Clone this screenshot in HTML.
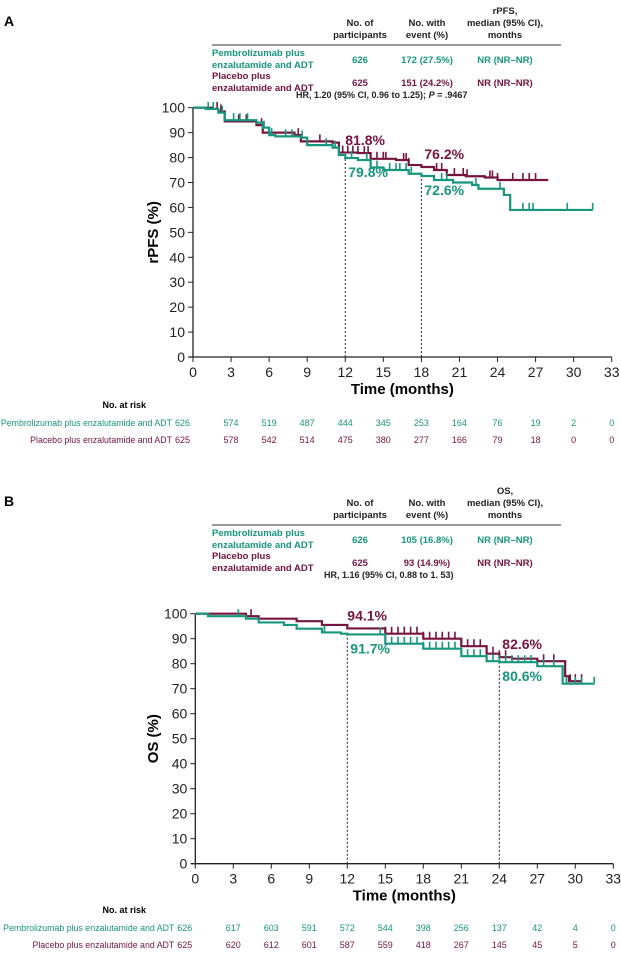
<!DOCTYPE html>
<html><head><meta charset="utf-8">
<style>
html,body{margin:0;padding:0;background:#fff;}
body{width:621px;height:951px;overflow:hidden;font-family:"Liberation Sans",Arial,sans-serif;}
svg text{font-family:"Liberation Sans",Arial,sans-serif;}
</style></head>
<body>
<svg id="chart" width="621" height="951" viewBox="0 0 621 951" xmlns="http://www.w3.org/2000/svg"></svg>
<script>
// ---------- DATA ----------
const xTicks = [0,3,6,9,12,15,18,21,24,27,30,33];
const yTicks = [0,10,20,30,40,50,60,70,80,90,100];
// Panel A rPFS step curves [month, %]
const rpfsPembroT = [0,1,2,2.5,5,5.5,6,6.5,8.5,9,11,11.5,12,13,14,15,16.5,17,18,19,20.5,22,22.5,24,24.5,25,31.5];
const rpfsPembroS = [100,99.5,98,95,94,92,89,88.5,88,85,84,81,79.8,79,76,75,75,73.5,72.6,71,70,69,67.5,67.5,65,59,59];
const rpfsPlacT = [0,1.5,2,2.5,5,5.5,8,8.5,11,11.5,13,14,16,17,18,19,20,21.5,23,24,28];
const rpfsPlacS = [100,99.5,98.5,94.5,93,90,89,86.5,86,82,81.8,79.5,79,77,76.2,75,73,72.5,72,71,71];
const rpfsPembroCens = [1.2,1.6,2.3,3.2,3.7,4.3,5.6,6.2,7.3,7.8,8.6,10.5,11.2,12.5,13.7,14.5,15.5,16,16.3,16.8,17.2,19.6,20,22.3,24.2,26,26.5,26.8,29.5,31.5];
const rpfsPlacCens = [1.9,2.2,3.6,4.2,5.4,8.3,8.5,10,11.8,12.2,12.6,13,13.5,13.8,14.5,15,15.2,16.6,16.8,17,19.2,19.6,20.6,21.3,21.6,23.4,23.6,24,25.2,26,26.5,27];
// Panel B OS
const osPembroT = [0,1,4,5,7,8,10,11.5,12,15,18,21,23,24,26,27,29,29,31.5];
const osPembroS = [100,99,98,96.5,95.5,94,92.5,92,91.7,88,86,83,81,80.6,80.6,79,79,72,72];
const osPlacT = [0,4,5,8,10,12,15,18,21,23,24,25,27,29,29.2,29.5,30.5];
const osPlacS = [100,99,98,97,95.5,94.1,92,90,87,84,82.6,82,81,81,75,73,73];
const osPembroCens = [3.4,10.2,14.6,15.5,16,16.5,17,17.5,18,18.5,19,19.5,20,20.5,21,21.5,22,22.5,23,23.5,24,24.5,25,25.5,26,26.5,27.5,28.3,29.3,30,30.5,31.5];
const osPlacCens = [4.4,15,15.5,16,16.5,17,17.5,18,18.5,19,19.5,20,20.5,21,21.5,22,22.5,23,23.5,24,24.5,27.5,28.3,29.6,30,30.5];
// At risk
const riskA1 = [626,574,519,487,444,345,253,164,76,19,2,0];
const riskA2 = [625,578,542,514,475,380,277,166,79,18,0,0];
const riskB1 = [626,617,603,591,572,544,398,256,137,42,4,0];
const riskB2 = [625,620,612,601,587,559,418,267,145,45,5,0];
// Landmarks
const landA = [{t:12,a:81.8,b:79.8},{t:18,a:76.2,b:72.6}];
const landB = [{t:12,a:94.1,b:91.7},{t:24,a:82.6,b:80.6}];

const TEAL="#17967f", MAR="#76143f";
const svg=document.getElementById('chart');
const NS="http://www.w3.org/2000/svg";
function mk(tag,attrs,parent){const e=document.createElementNS(NS,tag);for(const k in attrs)e.setAttribute(k,attrs[k]);(parent||svg).appendChild(e);return e;}
function txt(x,y,s,opt,parent){const e=mk('text',Object.assign({x:x,y:y,'font-size':10,fill:'#222'},opt||{}),parent);e.textContent=s;return e;}

function panel(P){
  const g=mk('g',{});
  
  
  const X=t=>P.x0+t*(P.x33-P.x0)/33;
  const Y=v=>P.y0+v*(P.y100-P.y0)/100;
  const L=txt(4,P.top+12,P.letter,{'font-size':14,'font-weight':'bold',fill:'#000'},g);
  
  const tb=mk('g',{},g);
  
  const hy=P.top;
  [['No. of','participants',360],['No. with','event (%)',427]].forEach(h=>{
    txt(h[2],hy+12,h[0],{'font-size':9.5,'font-weight':'bold','text-anchor':'middle'},tb);
    txt(h[2],hy+24,h[1],{'font-size':9.5,'font-weight':'bold','text-anchor':'middle'},tb);
  });
  txt(505,hy,P.metric,{'font-size':9.5,'font-weight':'bold','text-anchor':'middle'},tb);
  txt(505,hy+12,'median (95% CI),',{'font-size':9.5,'font-weight':'bold','text-anchor':'middle'},tb);
  txt(505,hy+24,'months',{'font-size':9.5,'font-weight':'bold','text-anchor':'middle'},tb);
  mk('line',{x1:212,x2:561,y1:hy+31,y2:hy+31,stroke:'#333','stroke-width':1},tb);
  [[P.rowA,TEAL,hy+42],[P.rowB,MAR,hy+65]].forEach((r,i)=>{
    txt(212,r[2],i==0?'Pembrolizumab plus':'Placebo plus',{'font-size':9.5,'font-weight':'bold',fill:r[1]},tb);
    txt(212,r[2]+12,'enzalutamide and ADT',{'font-size':9.5,'font-weight':'bold',fill:r[1]},tb);
    txt(360,r[2]+7,r[0][0],{'font-size':9.5,'font-weight':'bold',fill:r[1],'text-anchor':'middle'},tb);
    txt(427,r[2]+7,r[0][1],{'font-size':9.5,'font-weight':'bold',fill:r[1],'text-anchor':'middle'},tb);
    txt(505,r[2]+7,r[0][2],{'font-size':9.5,'font-weight':'bold',fill:r[1],'text-anchor':'middle'},tb);
  });
  const hr=txt(P.hrX,P.hrY,'',{'font-size':9,'font-weight':'bold'},g);
  
  hr.innerHTML=P.hr;
  const ax=mk('g',{},g);
  mk('line',{x1:X(0),x2:X(0),y1:Y(0),y2:Y(100),stroke:'#222','stroke-width':1.3},ax);
  mk('line',{x1:X(0)-4,x2:X(33),y1:Y(0),y2:Y(0),stroke:'#222','stroke-width':1.3},ax);
  yTicks.forEach(v=>{
    mk('line',{x1:X(0)-5,x2:X(0),y1:Y(v),y2:Y(v),stroke:'#222'},ax);
    const t=txt(X(0)-8,Y(v)+5,String(v),{'font-size':14,'text-anchor':'end'},ax);
    
  });
  xTicks.forEach(v=>{
    mk('line',{x1:X(v),x2:X(v),y1:Y(0),y2:Y(0)+5,stroke:'#222'},ax);
    const t=txt(X(v),Y(0)+20,String(v),{'font-size':14,'text-anchor':'middle'},ax);
    
  });
  const xt=txt((X(0)+X(33))/2,Y(0)+37,'Time (months)',{'font-size':15,'font-weight':'bold','text-anchor':'middle',fill:'#000'},g);
  
  const yc=(Y(0)+Y(100))/2;
  const yt=txt(158,yc,P.ylab,{'font-size':15,'font-weight':'bold','text-anchor':'middle',fill:'#000',transform:`rotate(-90 158 ${yc})`},g);
  
  P.land.forEach((l,i)=>{
    const dl=mk('line',{x1:X(l.t),x2:X(l.t),y1:Y(0),y2:Y(l.b),stroke:'#222','stroke-dasharray':'2,2','stroke-width':1},g);
    
  });
  function curve(T,S,cens,color,name){
    let d=`M${X(T[0])},${Y(S[0])}`;
    for(let i=1;i<T.length;i++){d+=`H${X(T[i])}V${Y(S[i])}`;}
    const p=mk('path',{d:d,fill:'none',stroke:color,'stroke-width':2.2},g);
    
    const sv=t=>{let s=S[0];for(let i=0;i<T.length;i++){if(T[i]<=t)s=S[i];}return s;};
    cens.forEach(t=>{
      const c=mk('line',{x1:X(t),x2:X(t),y1:Y(sv(t)),y2:Y(sv(t))-7,stroke:color,'stroke-width':1.6},g);
      
    });
  }
  curve(P.bT,P.bS,P.bC,MAR,'placebo');
  curve(P.aT,P.aS,P.aC,TEAL,'pembrolizumab');
  P.land.forEach(l=>{
    const a=txt(X(l.t)+(l.t==12?0:3),Y(l.a)-8,l.a.toFixed(1)+'%',{'font-size':14,'font-weight':'bold',fill:MAR},g);
    
    const b=txt(X(l.t)+3,Y(l.b)+19,l.b.toFixed(1)+'%',{'font-size':14,'font-weight':'bold',fill:TEAL},g);
    
  });
  const ar=mk('g',{},g);
  txt(146,P.riskY,'No. at risk',{'font-size':9,'font-weight':'bold','text-anchor':'end',fill:'#000'},ar);
  [[P.r1,TEAL,'Pembrolizumab plus enzalutamide and ADT',P.riskY+18],[P.r2,MAR,'Placebo plus enzalutamide and ADT',P.riskY+35]].forEach(r=>{
    txt(X(0)-21,r[3],r[2],{'font-size':8.8,fill:r[1],'text-anchor':'end'},ar);
    r[0].forEach((n,i)=>{
      const t=txt(i==0?X(0)-3:X(xTicks[i]),r[3],String(n),{'font-size':9,fill:r[1],'text-anchor':i==0?'end':'middle'},ar);
      
    });
  });
}
panel({name:'panel-a-rpfs',letter:'A',top:14,metric:'rPFS,',ylab:'rPFS (%)',x0:193,x33:611.7,y0:357,y100:107.7,
  rowA:['626','172 (27.5%)','NR (NR–NR)'],rowB:['625','151 (24.2%)','NR (NR–NR)'],
  hr:'HR, 1.20 (95% CI, 0.96 to 1.25); <tspan font-style="italic">P</tspan> = .9467',hrX:296,hrY:98,
  aT:rpfsPembroT,aS:rpfsPembroS,aC:rpfsPembroCens,bT:rpfsPlacT,bS:rpfsPlacS,bC:rpfsPlacCens,
  land:landA,r1:riskA1,r2:riskA2,riskY:408});
panel({name:'panel-b-os',letter:'B',top:494,metric:'OS,',ylab:'OS (%)',x0:195.3,x33:613.3,y0:863.7,y100:613.7,
  rowA:['626','105 (16.8%)','NR (NR–NR)'],rowB:['625','93 (14.9%)','NR (NR–NR)'],
  hr:'HR, 1.16 (95% CI, 0.88 to 1. 53)',hrX:324,hrY:578,
  aT:osPembroT,aS:osPembroS,aC:osPembroCens,bT:osPlacT,bS:osPlacS,bC:osPlacCens,
  land:landB,r1:riskB1,r2:riskB2,riskY:913});
</script>
</body></html>
